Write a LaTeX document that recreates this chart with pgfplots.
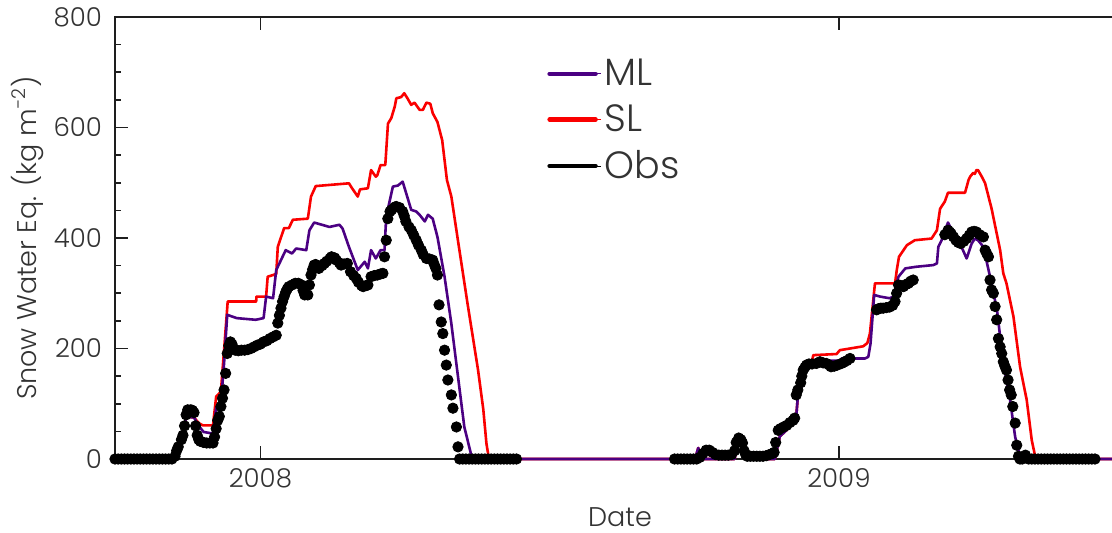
\documentclass[border=0pt]{standalone}
\usepackage{pgfplots}
\pgfplotsset{compat=1.18}
\usepackage{fontspec}
\setmainfont{Poppins Light}

\definecolor{mlpurple}{RGB}{75,0,130}
\definecolor{slred}{RGB}{250,0,0}
\definecolor{spine}{RGB}{30,30,30}

% x = days since 1 Jan 2008
\pgfplotstableread{
d v
-92 0
-53 0
-50 30
-47 77
-42 75
-39 60
-36 49
-30 46
-28 92
-25 101
-23 173
-21 261
-15 255
-3 252
2 255
3.6 294
8 291
10 342
13 360
16 378
20 372
22.6 381
29 378
31 414
34 428
43.7 420
50 424
52 417
56 384
61.6 342
66 357
68 345
70 378
73 363
76 378
78.5 378
79.6 439
83.8 493
87 495
90 502
95.4 451
98.6 448
100.7 442
104 430
106 442
109 435
112 402
116.5 330
120.8 245
125 149
129 58
133.4 7
135 0
275 0
277 20
279 0
300 0
303 42
305 20
307 0
325.5 0
328.6 41
332.8 52
337 65
339 77
340 113
342.4 131
343.4 155
344.5 173
354 178
367 178
367.7 182
382.5 182
384.6 185
386 209
388.3 297
392 294
398 291
400.5 294
402.6 318
403.7 330
408 345
415 348
425.7 351
428 354
428.9 384
431 396
435 428
438.5 408
442.6 390
446.8 363
450 390
452 399
454 396
457.4 384
461.6 330
466 270
470 173
474 113
477.5 40
480.6 4
482 0
547 0
}\mltable

\pgfplotstableread{
d v
-92 0
-53 0
-50 30
-47 77
-42 75
-39 65
-36.5 61
-30 61
-28 113
-25 122
-23 197
-20.7 285
-2.7 285
-2.5 294
3.6 294
4.6 330
8 333
10 335
11 384
15 418
18 418
20.5 433
30 435
32 475
35 494
56 499
58 490
61.6 475
63 488
68 490
70 523
73 511
74 514
76 532
79 532
80.7 607
82.8 617
85 638
86 653
89 655
91 662
93 653
95.4 641
97.5 645
100.7 632
102.8 632
105 645
107.5 643
109 626
112 610
115 577
118 505
120.8 475
125 395
131 282
137.7 161
141 90
143 28
144.6 0
275 0
277 20
280 0
300 0
303 42
306 20
309 3
311 0
325.5 0
328.6 41
332.8 52
337 65
339 77
340 113
342.4 131
343.4 155
344.5 176
349 178
349.8 188
364.5 190
366.6 197
381.4 204
384 210
385.6 227
388.8 318
401.5 318
402.6 342
404 366
409 387
414 396
424.6 399
428 414
430 453
433 466
435 482
445.8 482
448 505
449 511
451 518
452 516
453 523
454 523
456.4 511
458.5 499
462.6 453
468 378
470 336
472 318
476.4 258
480.6 167
484.8 107
488 34
490 7
492 0
547 0
}\sltable

\pgfplotstableread{
d v
-92 0
-90 0
-88 0
-86 0
-84 0
-82 0
-80 0
-78 0
-76 0
-74 0
-72 0
-70 0
-68 0
-66 0
-64 0
-62 0
-60 0
-58 0
-56 0
-54 5
-53 15
-52 22
-50 35
-49 43
-48 60
-47 80
-46 89
-45 88
-44 89
-43 88
-42 84
-41 60
-40 43
-39 35
-38 32
-36 30
-34 29
-32 29
-30 29
-29 40
-28 55
-27 70
-26 77
-25 95
-24 110
-23 125
-22 155
-21 191
-20 205
-19 212
-18 208
-17 200
-16 197
-14 196
-12 197
-10 197
-8 198
-6 200
-4 203
-2 206
0 208
2 212
4 214
6 218
8 221
10 224
11 246
12 260
13 273
14 285
15 294
16 302
17 308
18 312
20 315
22 318
24 318
26 315
27 305
28 297
30 297
31 315
32 333
33 343
34 351
35 352
37 345
39 350
40.5 354
42 358
44 363
45 366
47 364
48 360
50 355
51 351
53 353
55 354
57 339
59 332
60.6 327
62 320
64 314
65 312
67 314
68 315
70 330
72 332
74 333
76 335
77.5 336
78.5 366
79.6 396
80.6 435
82 448
83 451
85 456
86 457
88 455
90 448
91 440
92 430
94 420
95.5 414
97 405
98.6 396
100 387
101.8 378
103 370
105 363
107 362
109 360
110 352
111 345
112 333
113 279
114.4 248
115.4 227
116.5 197
117.6 170
118.6 143
120.8 116
121.8 92
124 58
125 22
126 0
128 0
130 0
132 0
134 0
136 0
138 0
140 0
142 0
144 0
146 0
148 0
150 0
152 0
154 0
156 0
158 0
160 0
162 0
}\obsA

\pgfplotstableread{
d v
262 0
264 0
266 0
268 0
270 0
272 0
274 0
276 0
278 3
280 10
282 16
284 16
286 12
288 8
290 7
292 7
294 7
296 7
298 8
300 15
301 30
302.6 38
304 35
305 29
306 15
307 8
308 5
310 5
312 5
314 5
316 5
318 5
320 6
322 8
324 10
325 12
326 30
327.6 52
329 55
331 58
333 61
335 66
337 70
338 74
339 116
340 125
341.8 138
342.5 150
343.4 161
344.5 166
345.5 170
347 172
349 172
351.8 173
354 176
356 174
358 173
360 170
361 167
363 168
365 170
367.7 173
369 175
371 178
373 182
389.8 270
391 272
392.5 273
394 273
396 274
398 275
400 278
401.5 285
402.5 300
403.7 315
405 314
406.8 312
408.5 316
410 318
411.5 322
413 324
433 406
435 414
436 411
437 408
438.5 402
440 396
441.5 392
443 390
445 394
446.8 399
448.5 405
450 411
451.5 412
453 411
455 406
457.4 402
458.5 378
459.5 372
460.6 366
461.6 324
462.6 306
463.7 300
464.8 276
465.8 252
466.9 218
468 203
469 191
470 176
471 168
472 161
473 143
474 125
475 116
476 95
477.5 65
478.5 25
479.6 5
480.5 0
482 0
484 7
486 0
488 0
490 0
492 0
494 0
496 0
498 0
500 0
502 0
504 0
506 0
508 0
510 0
512 0
514 0
516 0
518 0
520 0
522 0
524 0
526 0
528 0
}\obsB

\begin{document}
\begin{tikzpicture}
\begin{axis}[
  scale only axis,
  width=505pt, height=221pt,
  xmin=-92, xmax=547,
  ymin=0, ymax=800,
  clip=false,
  xtick={0,366},
  xticklabels={2008,2009},
  ytick={0,200,400,600,800},
  minor y tick num=3,
  tick align=inside,
  major tick length=6.5pt,
  minor tick length=3pt,
  tick style={line width=0.8pt, spine},
  axis line style={line width=1pt, spine},
  /pgf/number format/assume math mode=true,
  ticklabel style={font=\fontsize{13}{15}\selectfont, text=black!80},
  yticklabel style={xshift=-3pt},
  xticklabel style={yshift=-1pt},
  xlabel={Date},
  ylabel={Snow Water Eq. (kg m\textsuperscript{−2})},
  every axis x label/.style={at={(axis description cs:0.5,0)}, anchor=base, yshift=-33.5pt,
    inner sep=0pt, font=\fontsize{13.5}{16}\selectfont, text=black!80},
  every axis y label/.style={at={(axis description cs:-0.0871,0.5)}, rotate=90, anchor=center,
    font=\fontsize{13.5}{16}\selectfont, text=black!80},
  legend style={draw=none, fill=none, at={(axis description cs:0.4277,0.915)}, anchor=north west,
    font=\fontsize{19}{22}\selectfont, text=black!80, row sep=4pt, inner sep=0pt},
  legend cell align=left,
  legend image code/.code={\draw[#1, line width=2.2pt, line cap=round] (0pt,0pt) -- (23pt,0pt);
    \path (0pt,0pt) -- (25.5pt,0pt);},
]
\addlegendimage{mlpurple}
\addlegendentry{ML}
\addlegendimage{slred}
\addlegendentry{SL}
\addlegendimage{black}
\addlegendentry{Obs}

\addplot[forget plot, only marks, mark=*, mark size=2.6pt, black] table[x=d, y=v] {\obsA};
\addplot[forget plot, only marks, mark=*, mark size=2.6pt, black] table[x=d, y=v] {\obsB};
\addplot[forget plot, slred, line width=1.3pt, line join=round] table[x=d, y=v] {\sltable};
\addplot[forget plot, mlpurple, line width=1.3pt, line join=round] table[x=d, y=v] {\mltable};
\end{axis}
\pgfresetboundingbox
\path[use as bounding box] (-57.5pt,-36.5pt) rectangle (498.5pt,229.5pt);
\end{tikzpicture}
\end{document}
